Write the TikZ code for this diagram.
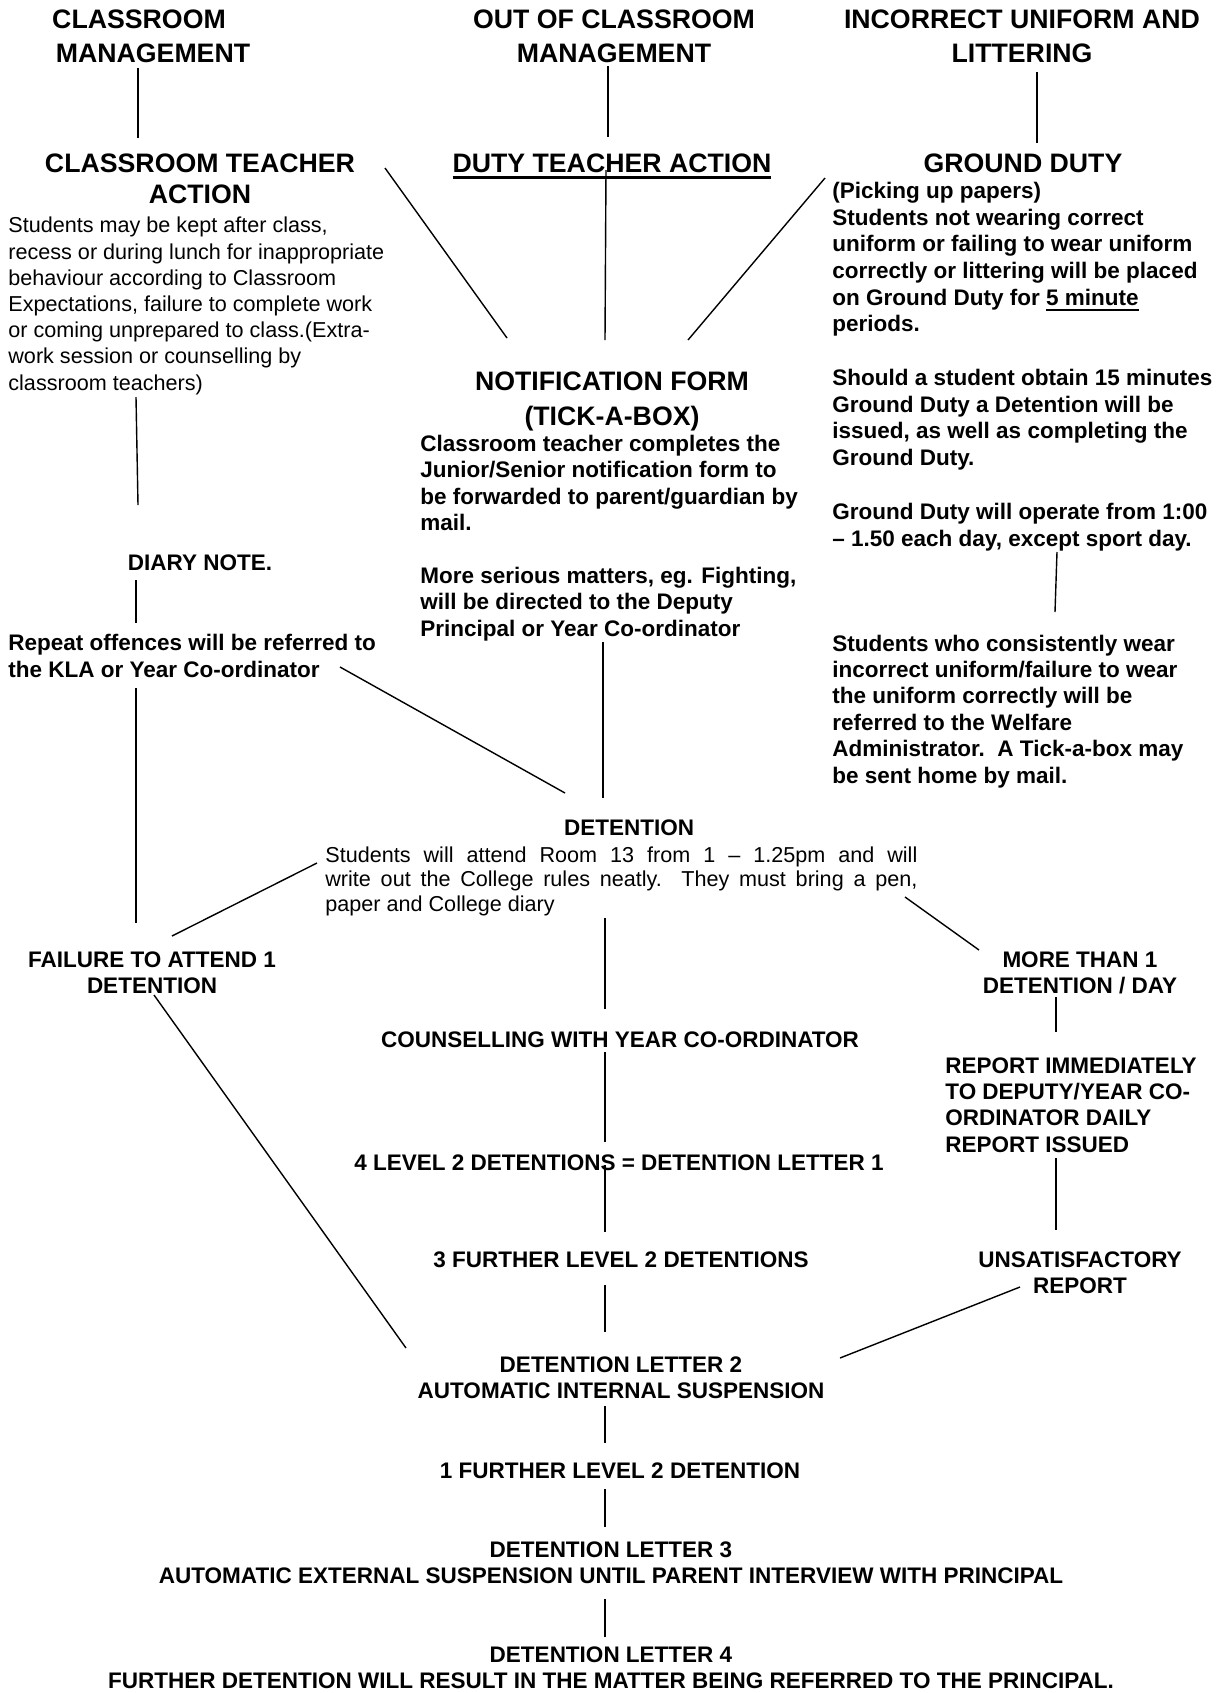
\documentclass[tikz,border=0pt]{standalone}
\usepackage{fontspec}
\setmainfont{Liberation Sans}
\newsavebox\ulbox
\newcommand\ulthick[1]{\sbox\ulbox{#1}\rlap{\rule[-3.7pt]{\wd\ulbox}{1.5pt}}\usebox\ulbox}
\newcommand\ulthin[1]{\sbox\ulbox{#1}\rlap{\rule[-3pt]{\wd\ulbox}{0.9pt}}\usebox\ulbox}
\begin{document}
\begin{tikzpicture}[x=0.5pt,y=-0.5pt,
  hd/.style={font=\bfseries\fontsize{13.35}{16.8}\selectfont,align=center,inner sep=0pt,anchor=base},
  lbl/.style={font=\bfseries\fontsize{11.25}{13}\selectfont,align=center,inner sep=0pt,anchor=base},
  bbody/.style={font=\bfseries\fontsize{11.25}{13.2}\selectfont,align=left,inner sep=0pt,anchor=base west},
  rbody/.style={font=\fontsize{10.8}{13.1}\selectfont,align=left,inner sep=0pt,anchor=base west},
  conn/.style={line width=0.7pt,black}]
\useasboundingbox[fill=white] (0,0) rectangle (1225,1693);
% (multi-line nodes are placed at the baseline of their LAST line)

% ---- top headings
\node[hd] (h1) at (153,62) {CLASSROOM\hspace*{14pt}\\MANAGEMENT};
\node[hd] (h2) at (614,62) {OUT OF CLASSROOM\\MANAGEMENT};
\node[hd] (h3) at (1022,62) {INCORRECT UNIFORM AND\\LITTERING};

% ---- second row
\node[hd,font=\bfseries\fontsize{13.35}{15.5}\selectfont] (ct) at (200,203) {CLASSROOM TEACHER\\ACTION};
\node[hd] (dt) at (612,172) {\ulthick{DUTY TEACHER ACTION}};
\node[hd] (gd) at (1023,172) {GROUND DUTY};

% ---- left column
\node[rbody] (ctb) at (8,390) {Students may be kept after class,\\
recess or during lunch for inappropriate\\
behaviour according to Classroom\\
Expectations, failure to complete work\\
or coming unprepared to class.(Extra-\\
work session or counselling by\\
classroom teachers)};
\node[lbl] (diary) at (200,570) {DIARY NOTE.};
\node[bbody] (rep) at (8,677) {Repeat offences will be referred to\\the KLA or Year Co-ordinator};

% ---- middle column
\node[hd,font=\bfseries\fontsize{13.35}{17.5}\selectfont] (nf) at (612,425) {NOTIFICATION FORM\\(TICK-A-BOX)};
\node[bbody,font=\bfseries\fontsize{11.25}{13.2}\selectfont] (nfb) at (420,636) {Classroom teacher completes the\\
Junior/Senior notification form to\\
be forwarded to parent/guardian by\\
mail.\\[13.2pt]
More serious matters, eg. Fighting,\\
will be directed to the Deputy\\
Principal or Year Co-ordinator};

% ---- right column
\node[bbody,font=\bfseries\fontsize{11.25}{13.35}\selectfont] (gdb) at (832,546) {(Picking up papers)\\
Students not wearing correct\\
uniform or failing to wear uniform\\
correctly or littering will be placed\\
on Ground Duty for \ulthin{5 minute}\\
periods.\\[13.5pt]
Should a student obtain 15 minutes\\
Ground Duty a Detention will be\\
issued, as well as completing the\\
Ground Duty.\\[13.5pt]
Ground Duty will operate from 1:00\\
– 1.50 each day, except sport day.};
\node[bbody] (gdc) at (832,783) {Students who consistently wear\\
incorrect uniform/failure to wear\\
the uniform correctly will be\\
referred to the Welfare\\
Administrator.\ \ A Tick-a-box may\\
be sent home by mail.};

% ---- detention block
\node[lbl] (det) at (629,835) {DETENTION};
\node[rbody,font=\fontsize{10.8}{12.3}\selectfont,text width=296pt,align=justify] (detb) at (325,862)
  {Students will attend Room 13 from 1 – 1.25pm and will\linebreak
   write out the College rules neatly.\ \ They must bring a pen,\linebreak
   paper and College diary};

% ---- lower chain
\node[lbl] (fail) at (152,993) {FAILURE TO ATTEND 1\\DETENTION};
\node[lbl] (more) at (1080,993) {MORE THAN 1\\DETENTION / DAY};
\node[lbl] (couns) at (620,1047) {COUNSELLING WITH YEAR CO-ORDINATOR};
\node[bbody,font=\bfseries\fontsize{11.25}{13.15}\selectfont] (repim) at (945,1152) {REPORT IMMEDIATELY\\TO DEPUTY/YEAR CO-\\ORDINATOR DAILY\\REPORT ISSUED};
\node[lbl] (four) at (619,1170) {4 LEVEL 2 DETENTIONS = DETENTION LETTER 1};
\node[lbl] (three) at (621,1267) {3 FURTHER LEVEL 2 DETENTIONS};
\node[lbl] (unsat) at (1080,1293) {UNSATISFACTORY\\REPORT};
\node[lbl] (dl2) at (621,1398) {DETENTION LETTER 2\\AUTOMATIC INTERNAL SUSPENSION};
\node[lbl] (one) at (620,1478) {1 FURTHER LEVEL 2 DETENTION};
\node[lbl] (dl3) at (611,1583) {DETENTION LETTER 3\\AUTOMATIC EXTERNAL SUSPENSION UNTIL PARENT INTERVIEW WITH PRINCIPAL};
\node[lbl,font=\bfseries\fontsize{11.25}{12.6}\selectfont] (dl4) at (611,1688) {DETENTION LETTER 4\\FURTHER DETENTION WILL RESULT IN THE MATTER BEING REFERRED TO THE PRINCIPAL.};

% ---- connector end points
\coordinate (c1a) at (138,68);   \coordinate (c1b) at (138,138);
\coordinate (c2a) at (608,66);   \coordinate (c2b) at (608,137);
\coordinate (c3a) at (1037,72);  \coordinate (c3b) at (1037,143);
\coordinate (c4a) at (385,168);  \coordinate (c4b) at (507,338);
\coordinate (c5a) at (606,170);  \coordinate (c5b) at (605,340);
\coordinate (c6a) at (825,178);  \coordinate (c6b) at (688,340);
\coordinate (c7a) at (136,397);  \coordinate (c7b) at (138,505);
\coordinate (c8a) at (136,580);  \coordinate (c8b) at (136,623);
\coordinate (c9a) at (136,688);  \coordinate (c9b) at (136,923);
\coordinate (c10a) at (340,667); \coordinate (c10b) at (565,793);
\coordinate (c11a) at (603,642); \coordinate (c11b) at (603,798);
\coordinate (c12a) at (172,936); \coordinate (c12b) at (317,863);
\coordinate (c13a) at (905,897); \coordinate (c13b) at (979,950);
\coordinate (c14a) at (605,918); \coordinate (c14b) at (605,1009);
\coordinate (c15a) at (154,995); \coordinate (c15b) at (406,1348);
\coordinate (c16a) at (1056,997); \coordinate (c16b) at (1056,1032);
\coordinate (c17a) at (605,1052); \coordinate (c17b) at (605,1142);
\coordinate (c18a) at (1056,1158); \coordinate (c18b) at (1056,1230);
\coordinate (c19a) at (605,1165); \coordinate (c19b) at (605,1232);
\coordinate (c20a) at (1020,1287); \coordinate (c20b) at (840,1358);
\coordinate (c21a) at (605,1285); \coordinate (c21b) at (605,1332);
\coordinate (c22a) at (605,1406); \coordinate (c22b) at (605,1443);
\coordinate (c23a) at (605,1489); \coordinate (c23b) at (605,1527);
\coordinate (c24a) at (605,1599); \coordinate (c24b) at (605,1637);
\coordinate (c25a) at (1057,552); \coordinate (c25b) at (1055,612);

\foreach \i in {1,...,25} {\draw[conn] (c\i a) -- (c\i b);}
\end{tikzpicture}
\end{document}
